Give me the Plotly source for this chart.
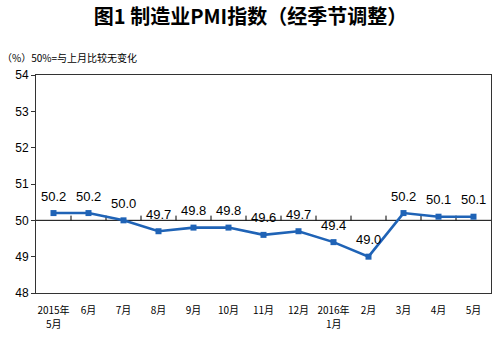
import plotly.graph_objects as go

tick_line1 = ["2015年", "6月", "7月", "8月", "9月", "10月", "11月", "12月",
              "2016年", "2月", "3月", "4月", "5月"]
tick_line2 = ["5月", "", "", "", "", "", "", "", "1月", "", "", "", ""]
pmi = [50.2, 50.2, 50.0, 49.7, 49.8, 49.8, 49.6, 49.7, 49.4, 49.0, 50.2, 50.1, 50.1]
labels = ["50.2", "50.2", "50.0", "49.7", "49.8", "49.8", "49.6", "49.7", "49.4", "49.0", "50.2", "50.1", "50.1"]
y_ticks = [48, 49, 50, 51, 52, 53, 54]

idx = list(range(len(tick_line1)))
line_color = "#1F63B6"

fig = go.Figure()
fig.add_trace(go.Scatter(
    x=idx, y=pmi, mode="lines+markers",
    line=dict(color=line_color, width=2.6),
    marker=dict(symbol="square", size=6, color=line_color),
    cliponaxis=False, showlegend=False, hoverinfo="skip"))

shapes = [dict(type="line", xref="x", yref="y", x0=-0.5, x1=len(idx) - 0.5,
               y0=50, y1=50, line=dict(color="#000000", width=1), layer="below")]
for i in range(len(idx) - 1):
    shapes.append(dict(type="line", xref="x", yref="y", x0=i + 0.5, x1=i + 0.5,
                       y0=50, y1=50.13, line=dict(color="#000000", width=1), layer="below"))

annotations = [dict(text="（%）50%=与上月比较无变化", xref="paper", yref="paper",
                    x=-36 / 455, y=1 + 18 / 218, xanchor="left", yanchor="middle",
                    showarrow=False,
                    font=dict(family="Noto Sans CJK SC", size=10, color="#000000"))]
for i, (v, t) in enumerate(zip(pmi, labels)):
    annotations.append(dict(text=t, x=i, y=v, xref="x", yref="y", showarrow=False,
                            xanchor="center", yanchor="middle", yshift=17,
                            font=dict(family="Liberation Sans, Arial", size=13, color="#000000")))
for i, t in enumerate(tick_line2):
    if t:
        annotations.append(dict(text=t, x=i, y=0, xref="x", yref="paper", showarrow=False,
                                xanchor="center", yanchor="middle", yshift=-30,
                                font=dict(family="Noto Sans CJK SC", size=10, color="#000000")))

fig.update_layout(
    width=501, height=343,
    margin=dict(l=36, r=10, t=75, b=50),
    paper_bgcolor="white", plot_bgcolor="white",
    shapes=shapes, annotations=annotations,
    title=dict(text="<b>图1 制造业PMI指数（经季节调整）</b>", x=0.5, xanchor="center",
               y=1 - 17 / 343, yanchor="middle",
               font=dict(family="Noto Sans CJK SC", size=20, color="#000000")),
    xaxis=dict(range=[-0.5, len(idx) - 0.5], tickmode="array", tickvals=idx,
               ticktext=tick_line1, showgrid=False, zeroline=False,
               showline=True, linecolor="#333333", linewidth=1, mirror=True,
               ticks="", ticklabelstandoff=8,
               tickfont=dict(family="Noto Sans CJK SC", size=10, color="#000000")),
    yaxis=dict(range=[48, 54], tickmode="array", tickvals=y_ticks,
               showgrid=False, zeroline=False,
               showline=True, linecolor="#333333", linewidth=1, mirror=True,
               ticks="outside", ticklen=4, tickcolor="#333333",
               tickfont=dict(family="Liberation Sans, Arial", size=12, color="#000000")),
)

fig.write_html("out.html")
